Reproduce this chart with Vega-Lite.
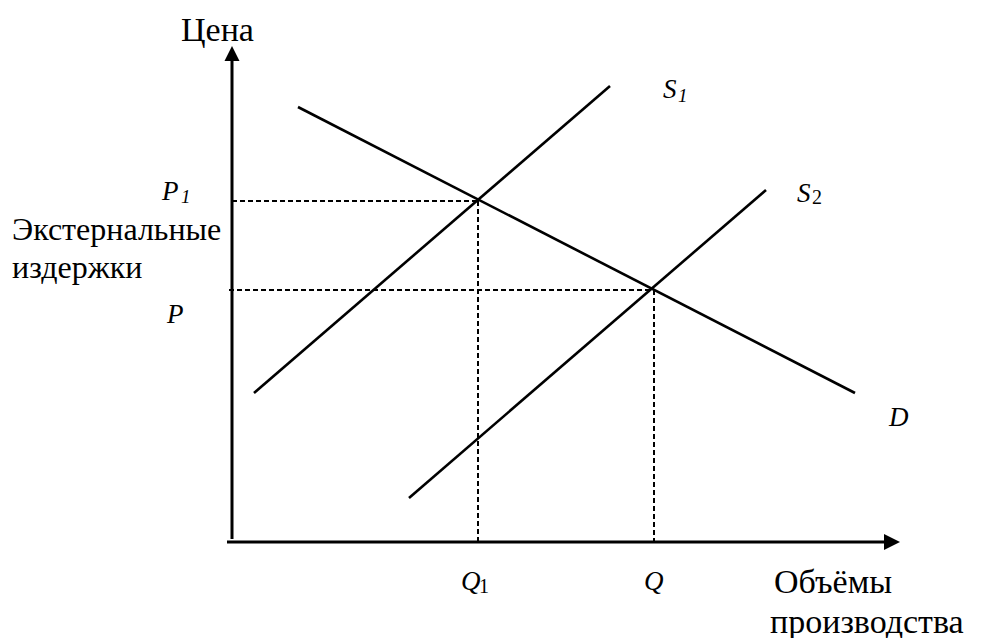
{
  "$schema": "https://vega.github.io/schema/vega-lite/v6.json",
  "width": 986,
  "height": 638,
  "padding": 0,
  "autosize": {"type": "none"},
  "background": "white",
  "config": {"view": {"stroke": null}},
  "datasets": {
    "curves": [
      {"name": "S1", "q1": 2.2, "p1": 14.9, "q2": 37.8, "p2": 45.6},
      {"name": "S2", "q1": 17.7, "p1": 4.4, "q2": 53.4, "p2": 35.2},
      {"name": "D", "q1": 6.6, "p1": 43.5, "q2": 62.3, "p2": 14.9}
    ],
    "axes": [
      {"name": "price", "q1": 0, "p1": 0.3, "q2": 0, "p2": 48.5},
      {"name": "quantity", "q1": -0.5, "p1": 0, "q2": 65.5, "p2": 0}
    ],
    "guides": [
      {"name": "P1", "q1": 0, "p1": 34.1, "q2": 24.6, "p2": 34.1},
      {"name": "P", "q1": -0.3, "p1": 25.2, "q2": 42.2, "p2": 25.2},
      {"name": "Q1", "q1": 24.6, "p1": 34.1, "q2": 24.6, "p2": 0},
      {"name": "Q", "q1": 42.2, "p1": 25.2, "q2": 42.2, "p2": 0}
    ],
    "arrowUp": [{"q": 0, "p": 49.6}],
    "arrowRight": [{"q": 66.8, "p": 0}],
    "titlesLarge": [
      {"q": -5.1, "p": 50.1, "text": "Цена"},
      {"q": 54.2, "p": -5.1, "text": "Объёмы"},
      {"q": 53.8, "p": -9.1, "text": "производства"}
    ],
    "titles": [
      {"q": -22.0, "p": 30.2, "text": "Экстернальные"},
      {"q": -22.0, "p": 26.4, "text": "издержки"}
    ],
    "letters": [
      {"q": -7.0, "p": 34.2, "text": "P"},
      {"q": -6.5, "p": 21.9, "text": "P"},
      {"q": 43.1, "p": 44.4, "text": "S"},
      {"q": 56.5, "p": 34.0, "text": "S"},
      {"q": 65.7, "p": 11.6, "text": "D"},
      {"q": 22.9, "p": -4.8, "text": "Q"},
      {"q": 41.2, "p": -4.8, "text": "Q"}
    ],
    "italicSubs": [
      {"q": -5.1, "p": 33.9, "text": "1"},
      {"q": 44.6, "p": 44.0, "text": "1"}
    ],
    "uprightSubs": [
      {"q": 58.0, "p": 33.8, "text": "2"},
      {"q": 24.7, "p": -5.1, "text": "1"}
    ]
  },
  "layer": [
    {
      "data": {"name": "guides"},
      "mark": {"type": "rule", "color": "black", "strokeWidth": 2, "strokeDash": [5, 3]},
      "encoding": {
        "x": {"field": "q1", "type": "quantitative", "scale": {"domain": [-23.2, 75.4], "nice": false, "zero": false}, "axis": null},
        "y": {"field": "p1", "type": "quantitative", "scale": {"domain": [-9.6, 54.2], "nice": false, "zero": false}, "axis": null},
        "x2": {"field": "q2"},
        "y2": {"field": "p2"}
      }
    },
    {
      "data": {"name": "curves"},
      "mark": {"type": "rule", "color": "black", "strokeWidth": 2.6},
      "encoding": {
        "x": {"field": "q1", "type": "quantitative", "axis": null},
        "y": {"field": "p1", "type": "quantitative", "axis": null},
        "x2": {"field": "q2"},
        "y2": {"field": "p2"}
      }
    },
    {
      "data": {"name": "axes"},
      "mark": {"type": "rule", "color": "black", "strokeWidth": 3},
      "encoding": {
        "x": {"field": "q1", "type": "quantitative", "axis": null},
        "y": {"field": "p1", "type": "quantitative", "axis": null},
        "x2": {"field": "q2"},
        "y2": {"field": "p2"}
      }
    },
    {
      "data": {"name": "arrowUp"},
      "mark": {"type": "point", "shape": "M0,0L-1,2L1,2Z", "filled": true, "color": "black", "opacity": 1, "size": 225},
      "encoding": {
        "x": {"field": "q", "type": "quantitative", "axis": null},
        "y": {"field": "p", "type": "quantitative", "axis": null}
      }
    },
    {
      "data": {"name": "arrowRight"},
      "mark": {"type": "point", "shape": "M0,0L-2,-1L-2,1Z", "filled": true, "color": "black", "opacity": 1, "size": 256},
      "encoding": {
        "x": {"field": "q", "type": "quantitative", "axis": null},
        "y": {"field": "p", "type": "quantitative", "axis": null}
      }
    },
    {
      "data": {"name": "titlesLarge"},
      "mark": {"type": "text", "font": "Liberation Serif", "fontSize": 34, "align": "left", "baseline": "alphabetic", "color": "black"},
      "encoding": {
        "x": {"field": "q", "type": "quantitative", "axis": null},
        "y": {"field": "p", "type": "quantitative", "axis": null},
        "text": {"field": "text"}
      }
    },
    {
      "data": {"name": "titles"},
      "mark": {"type": "text", "font": "Liberation Serif", "fontSize": 32, "align": "left", "baseline": "alphabetic", "color": "black"},
      "encoding": {
        "x": {"field": "q", "type": "quantitative", "axis": null},
        "y": {"field": "p", "type": "quantitative", "axis": null},
        "text": {"field": "text"}
      }
    },
    {
      "data": {"name": "letters"},
      "mark": {"type": "text", "font": "Liberation Serif", "fontSize": 27, "fontStyle": "italic", "align": "left", "baseline": "alphabetic", "color": "black"},
      "encoding": {
        "x": {"field": "q", "type": "quantitative", "axis": null},
        "y": {"field": "p", "type": "quantitative", "axis": null},
        "text": {"field": "text"}
      }
    },
    {
      "data": {"name": "italicSubs"},
      "mark": {"type": "text", "font": "Liberation Serif", "fontSize": 19, "fontStyle": "italic", "align": "left", "baseline": "alphabetic", "color": "black"},
      "encoding": {
        "x": {"field": "q", "type": "quantitative", "axis": null},
        "y": {"field": "p", "type": "quantitative", "axis": null},
        "text": {"field": "text"}
      }
    },
    {
      "data": {"name": "uprightSubs"},
      "mark": {"type": "text", "font": "Liberation Serif", "fontSize": 20, "align": "left", "baseline": "alphabetic", "color": "black"},
      "encoding": {
        "x": {"field": "q", "type": "quantitative", "axis": null},
        "y": {"field": "p", "type": "quantitative", "axis": null},
        "text": {"field": "text"}
      }
    }
  ]
}
